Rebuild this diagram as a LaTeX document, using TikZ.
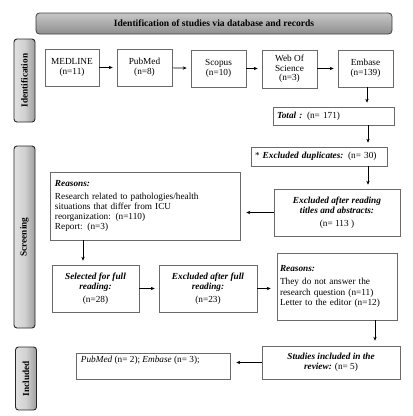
\documentclass[tikz,border=0pt]{standalone}
\usepackage{fontspec}
\setmainfont{Liberation Serif}
\usetikzlibrary{shadows,arrows.meta}
\definecolor{bordergray}{HTML}{6A6A6A}
\definecolor{hdrtop}{HTML}{C8C8C8}
\definecolor{hdrbot}{HTML}{8E8E8E}
\begin{document}
\begin{tikzpicture}[x=1bp,y=-1bp,
  font=\fontsize{9.3}{10.2}\selectfont,
  box/.style={draw=bordergray, line width=0.6pt, fill=white, inner sep=2pt,
    drop shadow={shadow xshift=1.2pt, shadow yshift=-1.2pt, fill=black!35, opacity=0.6},
    align=center},
  side/.style={draw=black!85, line width=0.9pt, rounded corners=3pt,
    left color=black!12, right color=black!38, middle color=black!18,
    font=\fontsize{9.3}{10}\selectfont\bfseries, rotate=90, inner sep=0pt},
  arr/.style={-{Stealth[length=4pt,width=3.4pt]}, line width=0.7pt, black}
]
\useasboundingbox (0,0) rectangle (413,416);
% header
\node[draw=black!75, line width=0.8pt, rounded corners=3.5pt, top color=hdrtop, bottom color=hdrbot,
  minimum width=356bp, minimum height=21bp, inner sep=0pt, font=\fontsize{9.6}{10}\selectfont\bfseries]
  (hdr) at (214,23.5) {Identification of studies via database and records};
% side labels
\node[side, minimum width=83bp, minimum height=21bp] (sid) at (24.5,80.5) {Identification};
\node[side, minimum width=182bp, minimum height=21bp] (ssc) at (24.5,237) {Screening};
\node[side, minimum width=63bp, minimum height=21bp] (sin) at (26,378.5) {Included};
% row 1
\node[box, minimum width=54bp, minimum height=37bp] (med) at (72,67.5) {MEDLINE\\(n=11)};
\node[box, minimum width=55bp, minimum height=37bp] (pub) at (144.5,67.5) {PubMed\\(n=8)};
\node[box, minimum width=55bp, minimum height=37bp] (sco) at (218.5,68.5) {Scopus\\(n=10)};
\node[box, minimum width=55bp, minimum height=38bp, font=\fontsize{9.3}{9.6}\selectfont] (wos) at (289.5,69) {Web Of\\Science\\(n=3)};
\node[box, minimum width=55bp, minimum height=37bp] (emb) at (365.5,68.5) {Embase\\(n=139)};
% total
\node[box, minimum width=121bp, minimum height=18bp, text width=113bp, align=left] (tot) at (333.5,116)
  {\textbf{\textit{Total :}} (n= 171)};
\node[box, minimum width=136bp, minimum height=19bp, text width=128bp, align=left] (dup) at (319,156.5)
  {* \textbf{\textit{Excluded duplicates:}} (n= 30)};
\node[box, minimum width=126bp, minimum height=47bp] (exr) at (337,212.5)
  {\textbf{\textit{Excluded after reading}}\\\textbf{\textit{titles and abstracts:}}\\[3pt](n= 113 )};
\node[box, minimum width=190bp, minimum height=68bp, text width=180bp, align=left] (rs1) at (145,206)
  {\textbf{\textit{Reasons:}}\\[3pt]Research related to pathologies/health\\situations that differ from ICU\\reorganization: (n=110)\\Report: (n=3)};
\node[box, minimum width=87bp, minimum height=47bp] (sel) at (95.5,288.5)
  {\textbf{\textit{Selected for full}}\\\textbf{\textit{reading:}}\\[3pt](n=28)};
\node[box, minimum width=98bp, minimum height=47bp] (exf) at (208,288.5)
  {\textbf{\textit{Excluded after full}}\\\textbf{\textit{reading:}}\\[3pt](n=23)};
\node[box, minimum width=120bp, minimum height=67bp, text width=114bp, align=left] (rs2) at (337,286.5)
  {\textbf{\textit{Reasons:}}\\[3pt]They do not answer the\\research question (n=11)\\Letter to the editor (n=12)};
\node[box, minimum width=138bp, minimum height=33bp] (stu) at (331,362.5)
  {\textbf{\textit{Studies included in the}}\\\textbf{\textit{review:}} (n= 5)};
\node[box, minimum width=154bp, minimum height=26bp] (inc) at (153,366) {};
\node[anchor=north west, inner sep=0pt] (inct) at ([xshift=5bp,yshift=-3.5bp]inc.north west)
  {\textit{PubMed} (n= 2); \textit{Embase} (n= 3);};
% arrows
\draw[arr, shorten >=4pt] (med) -- (pub);
\draw[arr, shorten >=4pt] (pub) -- (sco);
\draw[arr, shorten >=4pt] (sco.east) -- (sco.east -| wos.west);
\draw[arr, shorten >=4pt] (wos.east |- emb.west) -- (emb.west);
\draw[arr, shorten >=4pt] (emb.south -| 367,0) -- (tot.north -| 367,0);
\draw[arr, shorten >=4pt] (tot.south -| 368,0) -- (dup.north -| 368,0);
\draw[arr, shorten >=4pt] (dup.south -| 368,0) -- (exr.north -| 368,0);
\draw[arr, shorten >=6pt] (exr.west) -- (exr.west -| rs1.east);
\draw[arr, shorten >=4pt] (rs1.south -| 83,0) -- (sel.north -| 83,0);
\draw[arr, shorten >=4pt] (sel.east) -- (exf.west);
\draw[arr, shorten >=6pt] (exf.east) -- (exf.east -| rs2.west);
\draw[arr, shorten >=5pt] (rs2.south -| 375,0) -- (stu.north -| 375,0);
\draw[arr, shorten >=6pt] (stu.west) -- (stu.west -| inc.east);
\end{tikzpicture}
\end{document}
